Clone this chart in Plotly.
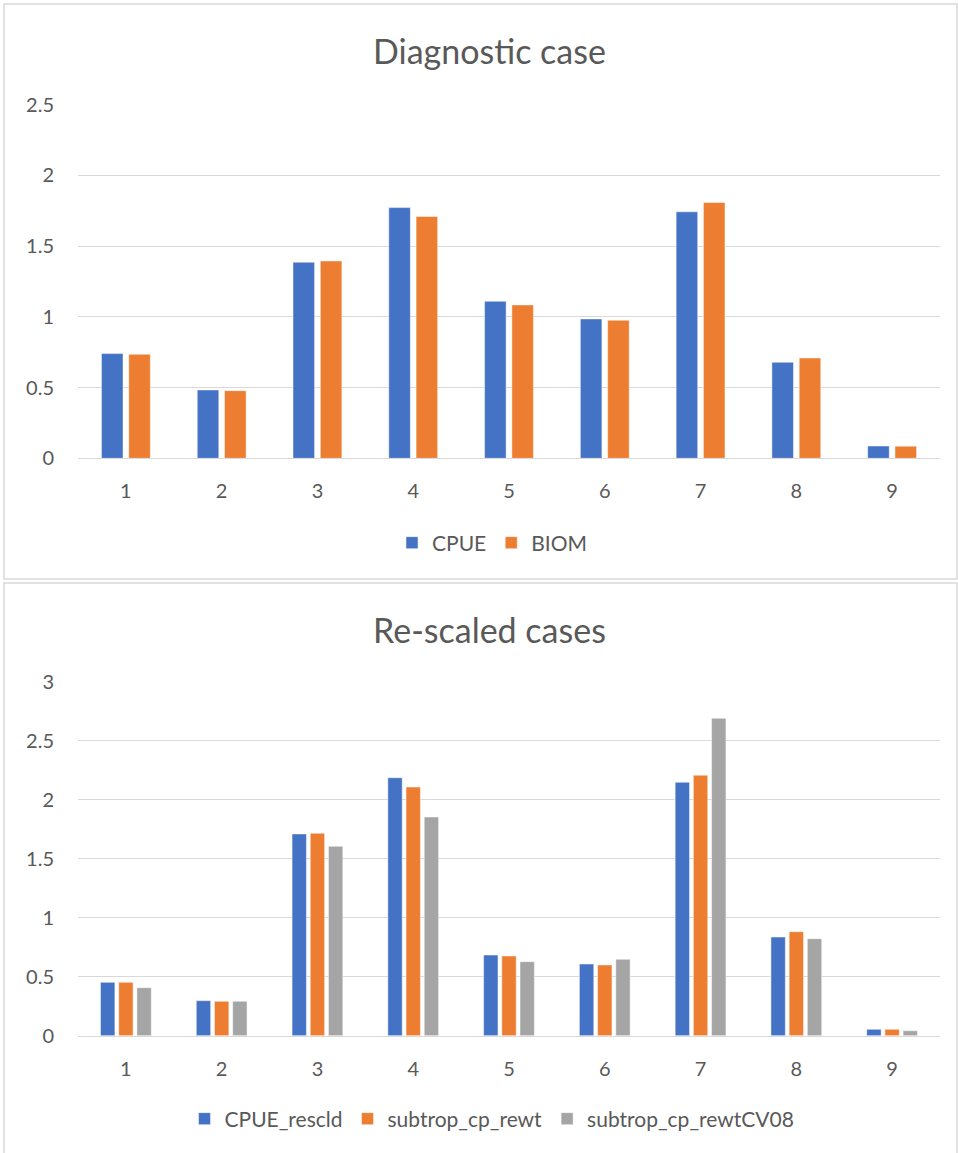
import plotly.graph_objects as go

# Category labels shared by both panels
categories = ["1", "2", "3", "4", "5", "6", "7", "8", "9"]

# Diagnostic case
cpue = [0.74, 0.483, 1.386, 1.772, 1.110, 0.985, 1.742, 0.679, 0.087]
biom = [0.735, 0.478, 1.395, 1.709, 1.084, 0.976, 1.808, 0.709, 0.086]

# Re-scaled cases
cpue_rescld = [0.453, 0.297, 1.711, 2.188, 0.684, 0.608, 2.149, 0.837, 0.054]
subtrop_cp_rewt = [0.453, 0.292, 1.717, 2.109, 0.676, 0.600, 2.209, 0.882, 0.054]
subtrop_cp_rewtCV08 = [0.407, 0.292, 1.606, 1.855, 0.628, 0.648, 2.692, 0.823, 0.042]

top_ticks = [0, 0.5, 1, 1.5, 2, 2.5]
top_ticktext = ["0", "0.5", "1", "1.5", "2", "2.5"]
bottom_ticks = [0, 0.5, 1, 1.5, 2, 2.5, 3]
bottom_ticktext = ["0", "0.5", "1", "1.5", "2", "2.5", "3"]

W, H = 958, 1153
BLUE, ORANGE, GRAY = "#4472C4", "#ED7D31", "#A5A5A5"
TEXT = "#595959"
GRID = "#D9D9D9"
FONT = "Lato"


def py(pix):
    """Convert a pixel row (from top) to paper y."""
    return 1 - pix / H


def px(pix):
    return pix / W


fig = go.Figure()


def bar(name, y, color, xa, ya, legend):
    return go.Bar(
        x=categories, y=y, name=name, xaxis=xa, yaxis=ya, legend=legend,
        marker=dict(color=color, line=dict(color="rgba(255,255,255,0.6)", width=0.8)),
        hoverinfo="x+y+name",
    )


fig.add_trace(bar("CPUE", cpue, BLUE, "x", "y", "legend"))
fig.add_trace(bar("BIOM", biom, ORANGE, "x", "y", "legend"))
fig.add_trace(bar("CPUE_rescld", cpue_rescld, BLUE, "x2", "y2", "legend2"))
fig.add_trace(bar("subtrop_cp_rewt", subtrop_cp_rewt, ORANGE, "x2", "y2", "legend2"))
fig.add_trace(bar("subtrop_cp_rewtCV08", subtrop_cp_rewtCV08, GRAY, "x2", "y2", "legend2"))

xdom = [px(78), px(940)]
tick_font = dict(family=FONT, size=20, color=TEXT)

xaxis_common = dict(
    domain=xdom, type="category", showgrid=False, zeroline=False,
    showline=True, linecolor=GRID, linewidth=1.2, ticks="",
    tickfont=tick_font, ticklabelstandoff=15, fixedrange=True,
    automargin=False,
)
yaxis_common = dict(
    showgrid=True, gridcolor=GRID, gridwidth=1.2, zeroline=False,
    showline=False, ticks="", tickfont=tick_font, ticklabelstandoff=23,
    fixedrange=True, automargin=False,
)

legend_font = dict(family=FONT, size=21, color=TEXT)

fig.update_layout(
    width=W, height=H,
    margin=dict(l=0, r=0, t=0, b=0, autoexpand=False),
    paper_bgcolor="white", plot_bgcolor="white",
    font=dict(family=FONT, color=TEXT),
    barmode="group",
    bargap=0.43, bargroupgap=0.21,
    xaxis=dict(**xaxis_common, anchor="y"),
    yaxis=dict(**yaxis_common, anchor="x", domain=[py(458.3), py(104.6)],
               range=[0, 2.5], tickvals=top_ticks, ticktext=top_ticktext),
    xaxis2=dict(**xaxis_common, anchor="y2"),
    yaxis2=dict(**yaxis_common, anchor="x2", domain=[py(1035.7), py(682)],
                range=[0, 3], tickvals=bottom_ticks, ticktext=bottom_ticktext),
    legend=dict(orientation="h", x=px(492), xanchor="center", y=py(543), yanchor="middle",
                font=legend_font, itemwidth=30,
                bgcolor="rgba(0,0,0,0)", traceorder="normal"),
    legend2=dict(orientation="h", x=px(492), xanchor="center", y=py(1119), yanchor="middle",
                 font=legend_font, itemwidth=30,
                 bgcolor="rgba(0,0,0,0)", traceorder="normal"),
    showlegend=True,
)

# Chart titles
fig.add_annotation(text="Diagnostic case", xref="paper", yref="paper",
                   x=px(489), y=py(51), xanchor="center", yanchor="middle",
                   showarrow=False, font=dict(family=FONT, size=34, color=TEXT))
fig.add_annotation(text="Re-scaled cases", xref="paper", yref="paper",
                   x=px(489), y=py(629), xanchor="center", yanchor="middle",
                   showarrow=False, font=dict(family=FONT, size=34, color=TEXT))

# Chart-area frames
fig.add_shape(type="rect", xref="paper", yref="paper",
              x0=px(4), x1=px(957), y0=py(579), y1=py(4),
              line=dict(color=GRID, width=1.5), fillcolor="rgba(0,0,0,0)", layer="below")
fig.add_shape(type="rect", xref="paper", yref="paper",
              x0=px(4), x1=px(957), y0=py(1160), y1=py(583),
              line=dict(color=GRID, width=1.5), fillcolor="rgba(0,0,0,0)", layer="below")

fig.write_html("out.html")
